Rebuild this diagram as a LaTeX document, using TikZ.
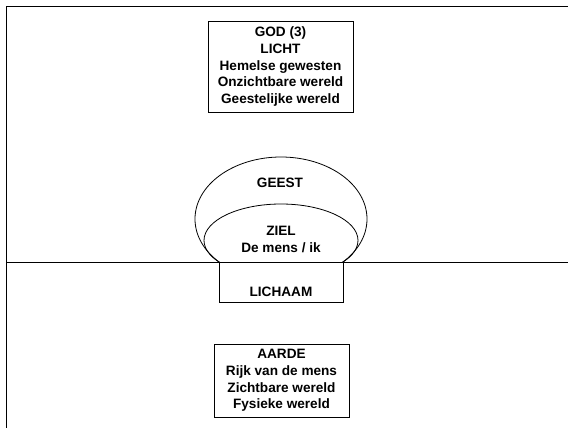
\documentclass[tikz,border=0pt]{standalone}
\usepackage{fontspec}
\setmainfont{Liberation Sans}
\usepackage{tikz}
\usetikzlibrary{calc}
\tikzstyle{realm}  = [rectangle, draw=black, line width=0.8pt, align=center, inner sep=0pt]
\tikzstyle{lbl}    = [align=center, inner sep=0pt]
\tikzstyle{border} = [line width=0.9pt]

\begin{document}
\begin{tikzpicture}[x=1pt, y=-1pt, font=\fontsize{13.6}{16.8}\selectfont\bfseries]
    \useasboundingbox (0,0) rectangle (568,428);
    % frame and horizon
    \draw [border] (568,6) -- (6,6) -- (6,428);
    \draw [border] (6,262) -- (568,262);

    \node (god)   [realm, minimum width=145pt, minimum height=91pt] at (280.5,66.5)
        {GOD (3)\\LICHT\\Hemelse gewesten\\Onzichtbare wereld\\Geestelijke wereld};
    \node (aarde) [realm, minimum width=135pt, minimum height=73pt] at (281.5,380.5)
        {AARDE\\Rijk van de mens\\Zichtbare wereld\\Fysieke wereld};

    % spirit and soul, cut off at the horizon
    \begin{scope}
        \clip (0,0) rectangle (568,262);
        \draw [line width=0.8pt] (281,219) ellipse [x radius=86, y radius=62];
        \draw [line width=0.8pt] (281,240.4) ellipse [x radius=77, y radius=36.4];
    \end{scope}
    \node (geest) [lbl] at (280,183) {GEEST};
    \node (ziel)  [lbl] at (281,239.5) {ZIEL\\De mens / ik};

    \node (lichaam) [realm, anchor=north, minimum width=124pt, inner ysep=3pt,
        text height=31pt, text depth=3pt] at (281,262) {LICHAAM};
\end{tikzpicture}
\end{document}
